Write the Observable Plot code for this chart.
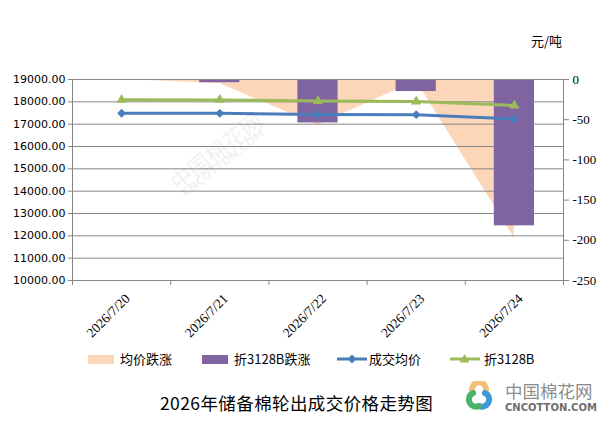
<!DOCTYPE html>
<html><head><meta charset="utf-8">
<script src="https://cdn.jsdelivr.net/npm/d3@7"></script>
<script src="https://cdn.jsdelivr.net/npm/@observablehq/plot@0.6"></script>
<style>
body{margin:0;background:#fff;}
#wrap{position:relative;width:616px;height:423px;overflow:hidden;font-family:"Noto Sans CJK SC","Noto Sans",sans-serif;color:#000;}
#chart{position:absolute;left:0;top:0;}
.abs{position:absolute;white-space:nowrap;line-height:1;}
</style></head><body>
<div id="wrap">
<div id="chart"></div>
<div id="overlay"></div>
</div>
<script>
// ---- data ----
const dates = ["2026/7/20", "2026/7/21", "2026/7/22", "2026/7/23", "2026/7/24"];
const avgPrice = [17490, 17485, 17428, 17426, 17229];       // 成交均价 (left axis)
const price3128B = [18090, 18086, 18032, 18017, 17835];     // 折3128B (left axis)
const avgChange = [0, -5, -57, -2, -197];                   // 均价跌涨 (right axis)
const change3128B = [0, -4, -54, -15, -182];                // 折3128B跌涨 (right axis)
const leftTicks = [10000, 11000, 12000, 13000, 14000, 15000, 16000, 17000, 18000, 19000];
const rightTicks = [0, -50, -100, -150, -200, -250];
const seriesNames = ["均价跌涨", "折3128B跌涨", "成交均价", "折3128B"];
const unitLabel = "元/吨";
const titleText = "2026年储备棉轮出成交价格走势图";

const colors = {area: "#FBD6B9", bar: "#8064A2", avg: "#4A7EBB", b3128: "#9BBB59", grid: "#868686"};

// right axis (0..-250) mapped onto left axis (19000..10000)
const R0 = 19000, RK = 9000 / 250;
const conv = v => R0 + v * RK;

const rows = dates.map((d, i) => ({
  i, date: d, avg: avgPrice[i], b: price3128B[i], dAvg: avgChange[i], dB: change3128B[i]
}));
const bounds = d3.range(-0.5, dates.length, 1);

const chart = Plot.plot({
  width: 616,
  height: 350,
  marginLeft: 72,
  marginRight: 53,
  marginTop: 79,
  marginBottom: 70,
  x: {type: "linear", domain: [-0.5, dates.length - 0.5], axis: null, label: null},
  y: {domain: [10000, 19000], label: null},
  style: {background: "transparent", overflow: "visible"},
  marks: [
    Plot.areaY(rows, {x: "i", y1: () => R0, y2: d => conv(d.dAvg), fill: colors.area, curve: "linear"}),
    Plot.gridY(leftTicks, {stroke: colors.grid, strokeOpacity: 1}),
    Plot.rectY(rows, {x1: d => d.i - 0.5, x2: d => d.i + 0.5, y1: () => R0, y2: d => conv(d.dB),
      fill: colors.bar, insetLeft: 29, insetRight: 29}),
    Plot.frame({stroke: colors.grid}),
    Plot.axisY({anchor: "left", ticks: leftTicks, tickFormat: d => d.toFixed(2), tickSize: 4, tickPadding: 3,
      stroke: colors.grid, fill: "#000", fontSize: 11, fontFamily: "DejaVu Sans", label: null}),
    Plot.axisY({anchor: "right", ticks: rightTicks.map(conv), tickFormat: d => String(Math.round((d - R0) / RK)),
      tickSize: 5, tickPadding: 4, stroke: colors.grid, fill: "#000", fontSize: 13, fontFamily: "Liberation Serif", label: null}),
    Plot.axisX({ticks: bounds, tickFormat: () => "", tickSize: 5, stroke: colors.grid, label: null}),
    Plot.text(rows, {x: "i", y: () => 10000, text: "date", rotate: -45, textAnchor: "end", lineAnchor: "middle",
      dx: 6, dy: 16, fontSize: 13.5, fontFamily: "Liberation Serif", fill: "#000"}),
    Plot.line(rows, {x: "i", y: "avg", stroke: colors.avg, strokeWidth: 3}),
    Plot.dot(rows, {x: "i", y: "avg", symbol: "diamond2", r: 4, fill: colors.avg, stroke: "none"}),
    Plot.line(rows, {x: "i", y: "b", stroke: colors.b3128, strokeWidth: 3}),
    Plot.dot(rows, {x: "i", y: "b", symbol: "triangle", r: 3.8, fill: colors.b3128, stroke: "none"})
  ]
});
document.getElementById("chart").appendChild(chart);

// ---- HTML overlays: unit, legend, title, logo ----
const ov = document.getElementById("overlay");
function add(html, style) {
  const el = document.createElement("div");
  el.className = "abs";
  el.style.cssText = style;
  el.innerHTML = html;
  ov.appendChild(el);
  return el;
}
add(unitLabel, "left:531px;top:34px;font-size:13px;");

// legend
const lgY = 359;
add("", `left:88px;top:${lgY - 4}px;width:26px;height:9px;background:${colors.area};`);
add(seriesNames[0], `left:120px;top:${lgY - 7}px;font-size:13px;`);
add("", `left:202px;top:${lgY - 4}px;width:26px;height:9px;background:${colors.bar};`);
add(seriesNames[1], `left:234px;top:${lgY - 7}px;font-size:13px;`);
add(`<svg width="30" height="12" style="display:block"><line x1="0" y1="6" x2="30" y2="6" stroke="${colors.avg}" stroke-width="3"/><path d="M15,1.5L19.5,6L15,10.5L10.5,6Z" fill="${colors.avg}"/></svg>`,
  `left:337px;top:${lgY - 6}px;`);
add(seriesNames[2], `left:369px;top:${lgY - 7}px;font-size:13px;`);
add(`<svg width="30" height="12" style="display:block"><line x1="0" y1="6" x2="30" y2="6" stroke="${colors.b3128}" stroke-width="3"/><path d="M14.5,1L19.5,9.5L9.5,9.5Z" fill="${colors.b3128}"/></svg>`,
  `left:450px;top:${lgY - 6}px;`);
add(seriesNames[3], `left:484px;top:${lgY - 7}px;font-size:13px;`);

// title
add(titleText, "left:160px;top:394px;font-size:17.5px;letter-spacing:0.4px;");

// logo
add(`<svg width="34" height="30" viewBox="0 0 34 30" style="display:block">
  <g fill="none" stroke-width="6" stroke-linecap="round">
    <path d="M11,12 A7,7 0 1 1 23,12" stroke="#F2C07A"/>
    <path d="M23,12 A7,7 0 1 1 17,25" stroke="#3E9AD6"/>
    <path d="M17,25 A7,7 0 1 1 11,12" stroke="#4DB36A"/>
  </g></svg>`, "left:462px;top:381px;");
add("中国棉花网", "left:505px;top:382px;font-size:17.5px;line-height:17px;height:17px;color:#8c8c8c;letter-spacing:0px;");
add("CNCOTTON.COM", "left:505px;top:403px;font-size:10px;line-height:10px;font-weight:bold;color:#6e6e6e;font-family:'DejaVu Sans',sans-serif;");

// faint watermark in the plot
add("中国棉花网", "left:165px;top:175px;font-size:22px;color:#000;opacity:0.05;transform:rotate(-38deg);transform-origin:left top;");
add("CNCOTTON.COM", "left:180px;top:190px;font-size:11px;font-weight:bold;color:#000;opacity:0.05;transform:rotate(-38deg);transform-origin:left top;font-family:'DejaVu Sans',sans-serif;");
</script>
</body></html>
